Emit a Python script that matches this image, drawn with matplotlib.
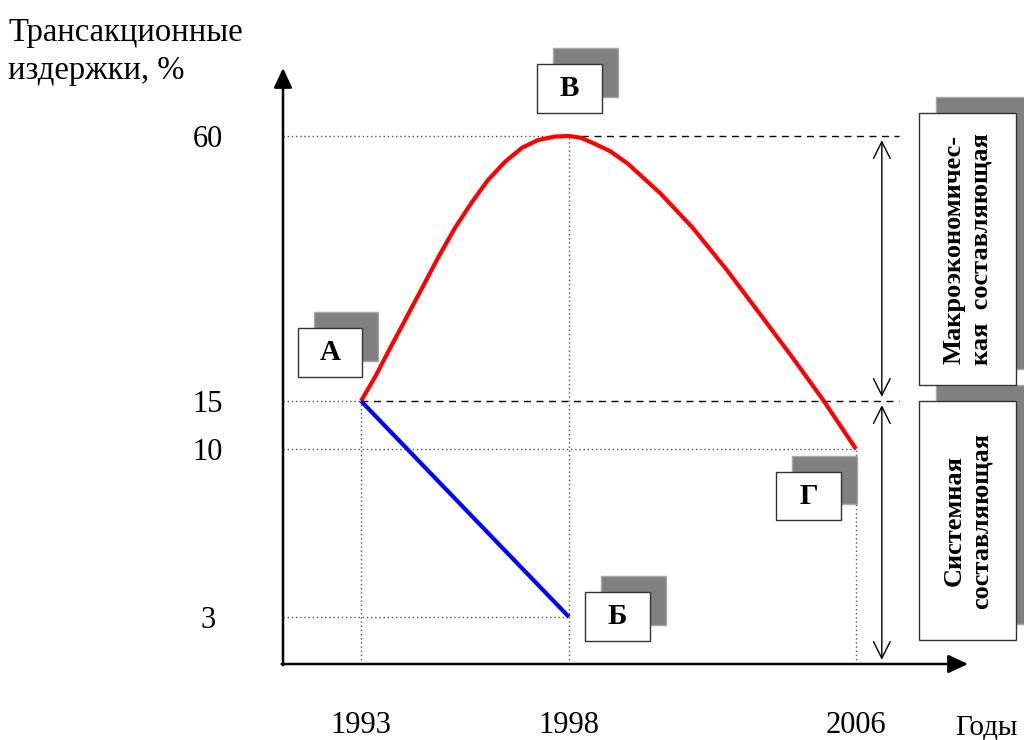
import numpy as np
import matplotlib
matplotlib.use('Agg')
import matplotlib.pyplot as plt
from matplotlib.patches import Rectangle
from matplotlib.transforms import IdentityTransform

plt.rcParams['font.family'] = ['Liberation Serif', 'DejaVu Serif']

# data
red_years = [1993, 1993.34, 1993.65, 1994.06, 1994.47, 1994.85, 1995.26, 1995.67, 1996.05,
             1996.46, 1996.87, 1997.25, 1997.66, 1998, 1998.33, 1998.67, 1999.14, 1999.62,
             2000.54, 2001.45, 2002.4, 2003.32, 2004.24, 2005.08, 2006]
red_values = [15, 19.1, 23.3, 28.75, 34.2, 39.3, 44.4, 48.8, 52.5, 55.6, 58.0, 59.3, 59.9,
              60, 59.7, 58.8, 57.45, 55.4, 50.3, 44.4, 37.25, 29.8, 22.3, 15.2, 10]
blue_years = [1993, 1998]
blue_values = [15, 3]

year_ticks = [1993, 1998, 2006]
value_ticks = [3, 10, 15, 60]

point_labels = ['А', 'Б', 'В', 'Г']
point_years = [1993, 1998, 1998, 2006]
point_values = [15, 3, 60, 10]

macro_text = 'Макроэкономичес-\nкая  составляющая'
system_text = 'Системная\nсоставляющая'

# schematic (non-uniform) axes, piecewise linear
Y_KNOTS = [-100, 0, 3, 10, 15, 60, 200]
Y_PIX = [-1566.7, 0, 47, 215, 263, 528, 1352.4]
X_KNOTS = [1900, 1993, 1998, 2006, 2100]
X_PIX = [-3790.8, 78, 286, 573, 3945.25]

fy = lambda v: np.interp(v, Y_KNOTS, Y_PIX)
iy = lambda p: np.interp(p, Y_PIX, Y_KNOTS)
fx = lambda v: np.interp(v, X_KNOTS, X_PIX)
ix = lambda p: np.interp(p, X_PIX, X_KNOTS)

fig = plt.figure(figsize=(10.24, 7.4), dpi=100)
ax = fig.add_axes([283 / 1024, 76 / 740, 685 / 1024, 596 / 740])
ax.set_xscale('function', functions=(fx, ix))
ax.set_yscale('function', functions=(fy, iy))
x0, x1 = float(ix(0)), float(ix(685))
ax.set_xlim(x0, x1)
ax.set_ylim(0, float(iy(596)))
for s in ax.spines.values():
    s.set_visible(False)
ax.patch.set_visible(False)

ax.set_xticks(year_ticks)
ax.set_xticklabels([str(y) for y in year_ticks])
ax.set_yticks(value_ticks)
ax.set_yticklabels([str(v) for v in value_ticks])
ax.tick_params(axis='x', length=0, pad=34, labelsize=22)
ax.tick_params(axis='y', length=0, pad=54, labelsize=22)
for lab in ax.get_yticklabels():
    lab.set_ha('center')

dot = dict(color='#555555', lw=1, ls=(0, (1, 2)), zorder=1)
dash = dict(color='black', lw=1, ls=(0, (5, 4)), zorder=1)
guide_end = 2007.2

# guide lines
ax.plot([x0, 1993], [15, 15], **dot)
ax.plot([1993, 1993], [0, 15], **dot)
ax.plot([x0, 1998], [60, 60], **dot)
ax.plot([1998, 1998], [0, 60], **dot)
ax.plot([x0, 1998], [3, 3], **dot)
ax.plot([x0, 2006], [10, 10], **dot)
ax.plot([2006, 2006], [0, 10], **dot)
ax.plot([1998, guide_end], [60, 60], **dash)
ax.plot([1993, guide_end], [15, 15], **dash)

ax.plot(red_years, red_values, color='red', lw=3, zorder=3, solid_capstyle='butt',
        solid_joinstyle='round')
ax.plot(blue_years, blue_values, color='blue', lw=3, zorder=3, solid_capstyle='butt')

# double arrows for the two components
arr = dict(arrowstyle='<->,head_length=0.6,head_width=0.3', mutation_scale=20, lw=1,
           color='black', shrinkA=3, shrinkB=3)
ax.annotate('', xy=(2006.72, 60), xytext=(2006.72, 15), arrowprops=arr)
ax.annotate('', xy=(2006.72, 15), xytext=(2006.72, 0), arrowprops=arr)

# axes arrows
ax_arr = dict(arrowstyle='-|>,head_length=0.6,head_width=0.28', mutation_scale=20,
              lw=1.8, color='black', shrinkA=0, shrinkB=0)
ax.annotate('', xy=(0, 1), xytext=(0, -0.002), xycoords='axes fraction', arrowprops=ax_arr)
ax.annotate('', xy=(1, 0), xytext=(-0.002, 0), xycoords='axes fraction', arrowprops=ax_arr)


def shadow_box(xy, dx, dy, w, h, text, sdx=16, sdy=16, **kw):
    px, py = ax.transData.transform(xy)
    bx, by = px + dx, py + dy
    ax.add_artist(Rectangle((bx + sdx, by + sdy), w, h, transform=IdentityTransform(),
                            fc='#808080', ec='#a8a8a8', lw=1, clip_on=False, zorder=4))
    ax.add_artist(Rectangle((bx, by), w, h, transform=IdentityTransform(),
                            fc='white', ec='#333333', lw=1, clip_on=False, zorder=5))
    ax.text(bx + w / 2, by + h / 2, text, transform=IdentityTransform(), ha='center',
            va='center', fontweight='bold', zorder=6, clip_on=False, **kw)


offsets = {'А': (-63, 24, 64, 49), 'Б': (16, -24, 65, 49),
           'В': (-32, 23, 65, 49), 'Г': (-80, -71, 65, 48)}
for lab, yr, val in zip(point_labels, point_years, point_values):
    dx, dy, w, h = offsets[lab]
    shadow_box((yr, val), dx, dy, w, h, lab, fontsize=21)

shadow_box((2006, 60), 63, -249, 97, 272, macro_text, sdx=17, sdy=16,
           fontsize=19, rotation=90, multialignment='center')
shadow_box((2006, 15), 63, -239, 97, 239, system_text, sdx=17, sdy=16,
           fontsize=19, rotation=90, multialignment='center')

fig.text(8 / 1024, 1 - 17 / 740, 'Трансакционные\nиздержки, %', ha='left', va='top',
         fontsize=23.5, linespacing=1.35)
fig.text(955 / 1024, 1 - 727 / 740, 'Годы', ha='left', va='center', fontsize=21)

fig.savefig('out.png', dpi=100)
